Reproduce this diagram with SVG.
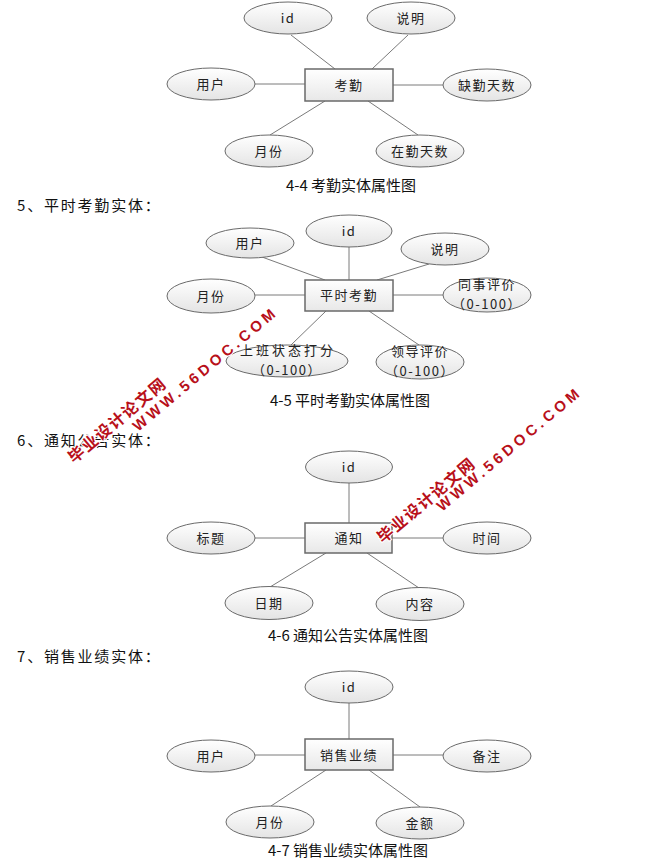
<svg xmlns="http://www.w3.org/2000/svg" width="651" height="864" viewBox="0 0 651 864">
<defs>
<linearGradient id="ge" x1="0" y1="0" x2="0" y2="1"><stop offset="0" stop-color="#ffffff"/><stop offset="1" stop-color="#e4e4e4"/></linearGradient>
<linearGradient id="gb" x1="0" y1="0" x2="0" y2="1"><stop offset="0" stop-color="#ffffff"/><stop offset="1" stop-color="#e8e8e8"/></linearGradient>
<style>
.ell{fill:url(#ge);stroke:#6a6a6a;stroke-width:1}
.box{fill:url(#gb);stroke:#6a6a6a;stroke-width:1.5}
.ln{stroke:#7a7a7a;stroke-width:1;fill:none}
.lbl{font-family:"Noto Sans CJK SC","Noto Sans",sans-serif;font-size:13px;fill:#222;text-anchor:middle;letter-spacing:1.5px}
.cap{font-family:"Noto Sans CJK SC",sans-serif;font-size:15px;fill:#111;text-anchor:middle}
.hdr{font-family:"Noto Sans CJK SC",sans-serif;font-size:15px;fill:#111;letter-spacing:1.8px}
.wm{font-family:"Liberation Sans","Noto Sans CJK SC",sans-serif;font-weight:bold;fill:#b8101a;stroke:#ffffff;stroke-width:2;paint-order:stroke}
</style>
</defs>
<rect width="651" height="864" fill="#ffffff"/>

<g id="connectors">
<line class="ln" x1="291" y1="35" x2="335" y2="69"/>
<line class="ln" x1="408" y1="35" x2="372" y2="69"/>
<line class="ln" x1="255" y1="84" x2="305" y2="84"/>
<line class="ln" x1="393" y1="85" x2="443" y2="85"/>
<line class="ln" x1="325" y1="101" x2="270" y2="135"/>
<line class="ln" x1="368" y1="101" x2="418" y2="135"/>

<line class="ln" x1="262" y1="257" x2="325" y2="280"/>
<line class="ln" x1="349" y1="247" x2="349" y2="280"/>
<line class="ln" x1="429" y1="264" x2="377" y2="280"/>
<line class="ln" x1="255" y1="295" x2="305" y2="295"/>
<line class="ln" x1="393" y1="295" x2="443" y2="295"/>
<line class="ln" x1="326" y1="311" x2="291" y2="345"/>
<line class="ln" x1="369" y1="311" x2="419" y2="345"/>

<line class="ln" x1="349" y1="483" x2="349" y2="523"/>
<line class="ln" x1="255" y1="538" x2="305" y2="538"/>
<line class="ln" x1="392" y1="538" x2="443" y2="538"/>
<line class="ln" x1="326" y1="553" x2="270" y2="587"/>
<line class="ln" x1="367" y1="553" x2="419" y2="588"/>

<line class="ln" x1="349" y1="703" x2="349" y2="739"/>
<line class="ln" x1="255" y1="755" x2="305" y2="755"/>
<line class="ln" x1="393" y1="755" x2="443" y2="755"/>
<line class="ln" x1="326" y1="770" x2="271" y2="806"/>
<line class="ln" x1="369" y1="770" x2="420" y2="807"/>
</g>

<!-- Diagram 4-4 -->
<g id="d1-id"><ellipse class="ell" cx="288" cy="18" rx="44" ry="16"/><text class="lbl" x="288" y="23">id</text></g>
<g id="d1-sm"><ellipse class="ell" cx="411" cy="18" rx="44" ry="16"/><text class="lbl" x="411" y="23">说明</text></g>
<g id="d1-user"><ellipse class="ell" cx="211" cy="84" rx="44" ry="16"/><text class="lbl" x="211" y="89">用户</text></g>
<g id="d1-kq"><rect class="box" x="305" y="69" width="88" height="32"/><text class="lbl" x="349" y="90">考勤</text></g>
<g id="d1-qq"><ellipse class="ell" cx="487" cy="85" rx="44" ry="16"/><text class="lbl" x="487" y="90">缺勤天数</text></g>
<g id="d1-yf"><ellipse class="ell" cx="269" cy="151" rx="44" ry="16"/><text class="lbl" x="269" y="156">月份</text></g>
<g id="d1-zq"><ellipse class="ell" cx="420" cy="151" rx="44" ry="16"/><text class="lbl" x="420" y="156">在勤天数</text></g>
<text class="cap" x="351" y="191">4-4 考勤实体属性图</text>

<text class="hdr" x="17" y="211">5、平时考勤实体：</text>

<!-- Diagram 4-5 -->
<g id="d2-user"><ellipse class="ell" cx="250" cy="243" rx="44" ry="15"/><text class="lbl" x="250" y="248">用户</text></g>
<g id="d2-id"><ellipse class="ell" cx="349" cy="231" rx="43" ry="16"/><text class="lbl" x="349" y="236">id</text></g>
<g id="d2-sm"><ellipse class="ell" cx="445" cy="249" rx="44" ry="16"/><text class="lbl" x="445" y="254">说明</text></g>
<g id="d2-yf"><ellipse class="ell" cx="211" cy="296" rx="44" ry="17"/><text class="lbl" x="211" y="301">月份</text></g>
<g id="d2-pskq"><rect class="box" x="305" y="280" width="88" height="31"/><text class="lbl" x="349" y="300">平时考勤</text></g>
<g id="d2-tspj"><ellipse class="ell" cx="487" cy="295" rx="44" ry="17"/><text class="lbl" x="487" y="289">同事评价</text><text class="lbl" x="487" y="309">（0-100）</text></g>
<g id="d2-sbzt"><ellipse class="ell" cx="287" cy="361" rx="61" ry="16"/><text class="lbl" x="288" y="355" style="letter-spacing:3px">上班状态打分</text><text class="lbl" x="287" y="375">（0-100）</text></g>
<g id="d2-ldpj"><ellipse class="ell" cx="420" cy="362" rx="44" ry="17"/><text class="lbl" x="420" y="356">领导评价</text><text class="lbl" x="420" y="376">（0-100）</text></g>
<text class="cap" x="350" y="406">4-5 平时考勤实体属性图</text>

<text class="hdr" x="17" y="446">6、通知公告实体：</text>

<!-- Diagram 4-6 -->
<g id="d3-id"><ellipse class="ell" cx="349" cy="467" rx="43.5" ry="16"/><text class="lbl" x="349" y="472">id</text></g>
<g id="d3-bt"><ellipse class="ell" cx="211" cy="538" rx="44" ry="16"/><text class="lbl" x="211" y="543">标题</text></g>
<g id="d3-tz"><rect class="box" x="305" y="523" width="87" height="30"/><text class="lbl" x="349" y="543">通知</text></g>
<g id="d3-sj"><ellipse class="ell" cx="487" cy="538" rx="44" ry="16"/><text class="lbl" x="487" y="543">时间</text></g>
<g id="d3-rq"><ellipse class="ell" cx="269" cy="603" rx="44" ry="16.5"/><text class="lbl" x="269" y="608">日期</text></g>
<g id="d3-nr"><ellipse class="ell" cx="420" cy="604" rx="44" ry="16.5"/><text class="lbl" x="420" y="609">内容</text></g>
<text class="cap" x="348" y="641">4-6 通知公告实体属性图</text>

<text class="hdr" x="17" y="662">7、销售业绩实体：</text>

<!-- Diagram 4-7 -->
<g id="d4-id"><ellipse class="ell" cx="349" cy="687" rx="44" ry="16"/><text class="lbl" x="349" y="692">id</text></g>
<g id="d4-user"><ellipse class="ell" cx="211" cy="756" rx="44" ry="16"/><text class="lbl" x="211" y="761">用户</text></g>
<g id="d4-xsyj"><rect class="box" x="305" y="739" width="88" height="31"/><text class="lbl" x="349" y="760">销售业绩</text></g>
<g id="d4-bz"><ellipse class="ell" cx="487" cy="756" rx="44" ry="16"/><text class="lbl" x="487" y="761">备注</text></g>
<g id="d4-yf"><ellipse class="ell" cx="270" cy="822" rx="44" ry="16"/><text class="lbl" x="270" y="827">月份</text></g>
<g id="d4-je"><ellipse class="ell" cx="420" cy="823" rx="44" ry="16"/><text class="lbl" x="420" y="828">金额</text></g>
<text class="cap" x="348" y="856">4-7 销售业绩实体属性图</text>

<!-- Watermarks -->
<g id="watermark1">
<text class="wm" transform="translate(74,464) rotate(-40)" style="font-size:16px;letter-spacing:1.5px">毕业设计论文网</text>
<text class="wm" transform="translate(138,432) rotate(-40)" style="font-size:15px;letter-spacing:3.8px">WWW.56DOC.COM</text>
</g>
<g id="watermark2">
<text class="wm" transform="translate(383,544) rotate(-40)" style="font-size:16px;letter-spacing:1.5px">毕业设计论文网</text>
<text class="wm" transform="translate(442,512) rotate(-40)" style="font-size:15px;letter-spacing:3.8px">WWW.56DOC.COM</text>
</g>
</svg>
